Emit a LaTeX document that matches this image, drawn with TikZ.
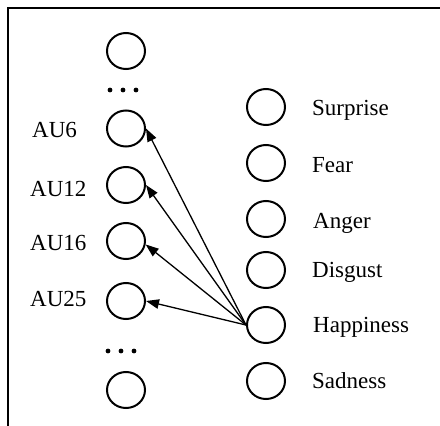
\documentclass[tikz,border=0pt]{standalone}
\usepackage{fontspec}
\setmainfont{Liberation Serif}
\usetikzlibrary{arrows.meta,shapes.geometric}
\begin{document}
\begin{tikzpicture}[x=1pt,y=-1pt,
  unit/.style={draw,line width=2pt,ellipse,minimum width=38pt,minimum height=36pt,inner sep=0pt},
  lbl/.style={anchor=base west,inner sep=0pt,font=\fontsize{23}{25}\selectfont},
  link/.style={line width=1.3pt,-{Triangle[length=13pt,width=9.5pt]}},
  frameline/.style={line width=2pt}]
\useasboundingbox (0,0) rectangle (440,426);
% open frame: top and left edges
\draw[frameline] (440,8) -- (8,8) -- (8,426);
% action-unit column
\node[unit] (u0) at (126,51) {};
\node[unit] (au6) at (126,128.5) {};
\node[unit] (au12) at (126,185) {};
\node[unit] (au16) at (126,241) {};
\node[unit] (au25) at (126,301) {};
\node[unit] (un) at (126,390) {};
\foreach \x in {110,123,136} {
  \fill (\x,90) circle (2.4pt);
  \fill (\x-2,351) circle (2.4pt);
}
\node[lbl] (t6) at (32,137) {AU6};
\node[lbl] (t12) at (30,196) {AU12};
\node[lbl] (t16) at (30,250) {AU16};
\node[lbl] (t25) at (30,306) {AU25};
% emotion column
\node[unit] (sur) at (266,107) {};
\node[unit] (fea) at (266,163) {};
\node[unit] (ang) at (266,219) {};
\node[unit] (dis) at (266,270) {};
\node[unit] (hap) at (266,325) {};
\node[unit] (sad) at (266,381) {};
\node[lbl] (tsur) at (312,115) {Surprise};
\node[lbl] (tfea) at (312,172) {Fear};
\node[lbl] (tang) at (313,228) {Anger};
\node[lbl] (tdis) at (312,277) {Disgust};
\node[lbl] (thap) at (313,332) {Happiness};
\node[lbl] (tsad) at (312,388) {Sadness};
% happiness is linked to its action units
\draw[link] (hap.west) -- (au6.east);
\draw[link] (hap.west) -- (au12.east);
\draw[link] (hap.west) -- (au16.-10);
\draw[link] (hap.west) -- (au25.east);
\end{tikzpicture}
\end{document}
